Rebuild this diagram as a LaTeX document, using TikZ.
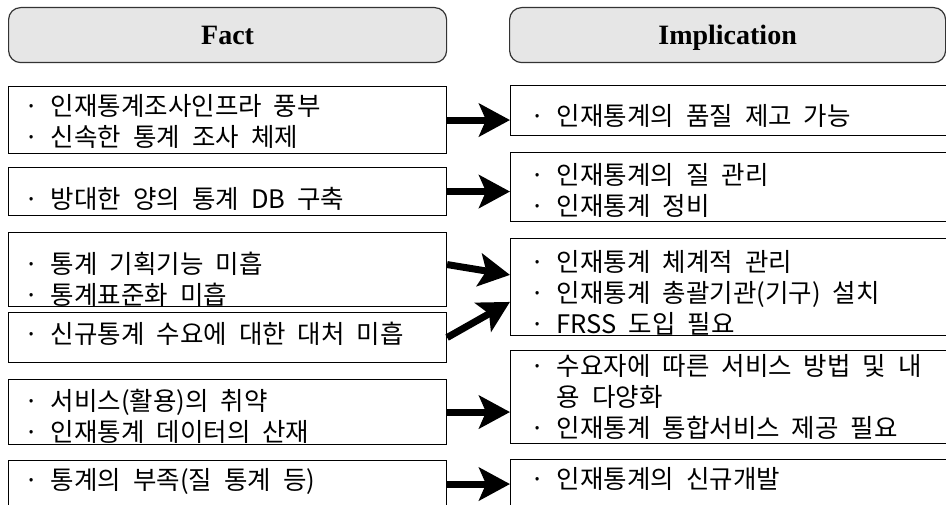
\documentclass[tikz,border=0pt]{standalone}
\usepackage{fontspec}
\usetikzlibrary{arrows.meta,calc}
\newfontfamily\kr{Noto Sans CJK KR}
\newfontfamily\hdr{Liberation Serif}
\definecolor{cinzaclaro}{RGB}{230,230,230}

\begin{document}
\begin{tikzpicture}[x=1pt,y=-1pt,
    cabeca/.style={draw=black!80, line width=1.2pt, fill=cinzaclaro, rounded corners=12pt,
        anchor=north west, minimum height=55pt, text height=19pt, text depth=0pt,
        font=\hdr\fontsize{28}{30}\selectfont\bfseries},
    fato/.style={draw, line width=1.1pt, anchor=north west, align=left, inner ysep=0pt,
        inner xsep=16pt, minimum width=438pt, text width=406pt, text height=24pt,
        font=\kr\fontsize{25.5}{31}\selectfont,
        execute at begin node={\spaceskip=12pt\relax}},
    impl/.style={fato, inner xsep=20pt, minimum width=470pt, text width=430pt},
    seta/.style={line width=7pt, -{Stealth[length=31pt, width=33pt, inset=7pt]}}]

    \useasboundingbox (0,0) rectangle (946,505);
    \clip (0,0) rectangle (946,505);

    % Cabeçalhos
    \node[cabeca, minimum width=438pt] (fact) at (8,7) {Fact};
    \node[cabeca, minimum width=436pt] (implication) at (509,7) {Implication};

    % Caixas da esquerda
    \node[fato, minimum height=67pt] (f1) at (8,86) {· 인재통계조사인프라 풍부\\· 신속한 통계 조사 체제};
    \node[fato, minimum height=48pt, text height=35pt] (f2) at (8,167) {· 방대한 양의 통계 DB 구축};
    \node[fato, minimum height=64pt, text height=41pt] (f3) at (8,232) {· 통계 기획기능 미흡\\· 통계표준화 미흡};
    \node[fato, minimum height=50pt, text height=13pt] (f4) at (8,312) {· 신규통계 수요에 대한 대처 미흡};
    \node[fato, minimum height=65pt, text height=29pt] (f5) at (8,379) {· 서비스(활용)의 취약\\· 인재통계 데이터의 산재};
    \node[fato, minimum height=47pt, text height=15pt] (f6) at (8,460) {· 통계의 부족(질 통계 등)};

    % Caixas da direita
    \node[impl, minimum height=50pt, text height=31pt] (i1) at (510,85) {· 인재통계의 품질 제고 가능};
    \node[impl, minimum height=69pt, text height=27pt] (i2) at (510,152) {· 인재통계의 질 관리\\· 인재통계 정비};
    \node[impl, minimum height=92pt, text height=33pt] (i3) at (510,238) {· 인재통계 체계적 관리\\· 인재통계 총괄기관(기구) 설치\\· FRSS 도입 필요};
    \node[impl, minimum height=93pt, text height=21pt] (i4) at (510,350) {· 수요자에 따른 서비스 방법 및 내\\\phantom{· }용 다양화\\· 인재통계 통합서비스 제공 필요};
    \node[impl, minimum height=48pt, text height=11pt] (i5) at (510,459) {· 인재통계의 신규개발};

    % Setas
    \draw[seta] (f1.east) -- (f1.east -| i1.west);
    \draw[seta] (f2.east) -- (f2.east -| i2.west);
    \draw[seta] ($(f3.east)+(0,-5)$) -- ($(i3.west)+(0,-12)$);
    \draw[seta] (f4.east) -- ($(i3.west)+(0,15)$);
    \draw[seta] (f5.east) -- (f5.east -| i4.west);
    \draw[seta] (f6.east) -- (f6.east -| i5.west);

\end{tikzpicture}
\end{document}
